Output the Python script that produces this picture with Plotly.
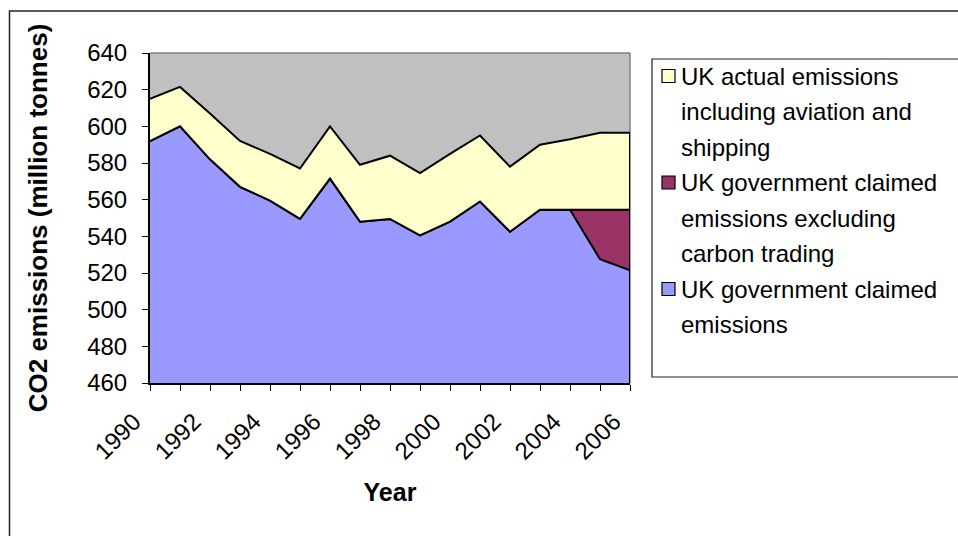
import plotly.graph_objects as go

# UK CO2 emissions, million tonnes
years = list(range(1990, 2007))
claimed = [592, 600, 582, 567, 559.5, 549.5, 571.5, 548, 549.5, 540.5,
           548, 559, 542.5, 554.5, 554.5, 527.5, 521.5]
excl_trading = [592, 600, 582, 567, 559.5, 549.5, 571.5, 548, 549.5, 540.5,
                548, 559, 542.5, 554.5, 554.5, 554.5, 554.5]
actual = [615, 621.5, 607, 592, 585, 577, 600, 579, 584, 574.5,
          585, 595, 578, 590, 593, 596.5, 596.5]

series_names = [
    ["UK actual emissions", "including aviation and", "shipping"],
    ["UK government claimed", "emissions excluding", "carbon trading"],
    ["UK government claimed", "emissions"],
]
series_colors = ["#FFFFCC", "#993366", "#9999FF"]

y_min, y_max = 460, 640

W, H = 958, 536
L, R, T, B = 150, 630, 53, 383
FONT = "Liberation Sans, Arial, sans-serif"


def px(x):
    return (x - L) / (R - L)


def py(y):
    return (B - y) / (B - T)


fig = go.Figure()
edge = dict(color="black", width=2)

fig.add_trace(go.Scatter(x=years, y=claimed, mode="lines", line=edge,
                         fill="tozeroy", fillcolor=series_colors[2],
                         showlegend=False, hoverinfo="x+y"))
fig.add_trace(go.Scatter(x=years, y=excl_trading, mode="lines", line=edge,
                         fill="tonexty", fillcolor=series_colors[1],
                         showlegend=False, hoverinfo="x+y"))
fig.add_trace(go.Scatter(x=years, y=actual, mode="lines", line=edge,
                         fill="tonexty", fillcolor=series_colors[0],
                         showlegend=False, hoverinfo="x+y"))
# closing edge of the stacked areas at the last year
fig.add_trace(go.Scatter(x=[years[-1], years[-1]], y=[y_min, actual[-1]],
                         mode="lines", line=edge, showlegend=False,
                         hoverinfo="skip"))

shapes = [
    # plot-area frame, top and right
    dict(type="line", xref="paper", yref="paper", x0=0, x1=1, y0=1, y1=1,
         line=dict(color="#808080", width=1.5), layer="below"),
    dict(type="line", xref="paper", yref="paper", x0=1, x1=1, y0=0, y1=1,
         line=dict(color="#808080", width=1.5), layer="below"),
    # chart-area border
    dict(type="rect", xref="paper", yref="paper",
         x0=px(9.5), x1=px(975), y0=py(11), y1=py(560),
         line=dict(color="#222222", width=1.5)),
    # legend box
    dict(type="rect", xref="paper", yref="paper",
         x0=px(652), x1=px(975), y0=py(59), y1=py(377),
         line=dict(color="#222222", width=1.2)),
]

annotations = []
line_step = 35.5
first_line = 76
row = 0
for names, color in zip(series_names, series_colors):
    yc = first_line + row * line_step
    shapes.append(dict(type="rect", xref="paper", yref="paper",
                       x0=px(662), x1=px(675), y0=py(yc - 6.5), y1=py(yc + 6.5),
                       fillcolor=color, line=dict(color="black", width=1.2)))
    for text in names:
        annotations.append(dict(xref="paper", yref="paper",
                                x=px(679), y=py(first_line + row * line_step),
                                xanchor="left", yanchor="middle",
                                text=text, showarrow=False,
                                font=dict(family=FONT, size=24, color="black")))
        row += 1

fig.update_layout(
    width=W, height=H,
    margin=dict(l=L, r=W - R, t=T, b=H - B, pad=0),
    paper_bgcolor="white",
    plot_bgcolor="#C0C0C0",
    font=dict(family=FONT, size=24, color="black"),
    shapes=shapes,
    annotations=annotations,
    xaxis=dict(
        range=[years[0], years[-1]],
        tickmode="linear", tick0=years[0], dtick=2,
        tickangle=-45,
        ticks="outside", ticklen=6, tickwidth=1.2, tickcolor="black",
        minor=dict(dtick=1, ticks="outside", ticklen=6, tickwidth=1.2,
                   tickcolor="black"),
        showgrid=False, zeroline=False,
        showline=True, linecolor="black", linewidth=2,
        tickfont=dict(family=FONT, size=24),
        ticklabelstandoff=7,
        ticklabelshift=-16,
        title=dict(text="<b>Year</b>", font=dict(family=FONT, size=25),
                   standoff=20),
    ),
    yaxis=dict(
        range=[y_min, y_max],
        tickmode="linear", tick0=y_min, dtick=20,
        ticks="outside", ticklen=6, tickwidth=1.2, tickcolor="black",
        showgrid=False, zeroline=False,
        showline=True, linecolor="black", linewidth=2,
        tickfont=dict(family=FONT, size=24),
        ticklabelstandoff=10,
        title=dict(text="<b>CO2 emissions (million tonnes)</b>",
                   font=dict(family=FONT, size=26), standoff=32),
    ),
)

fig.write_html("out.html")
